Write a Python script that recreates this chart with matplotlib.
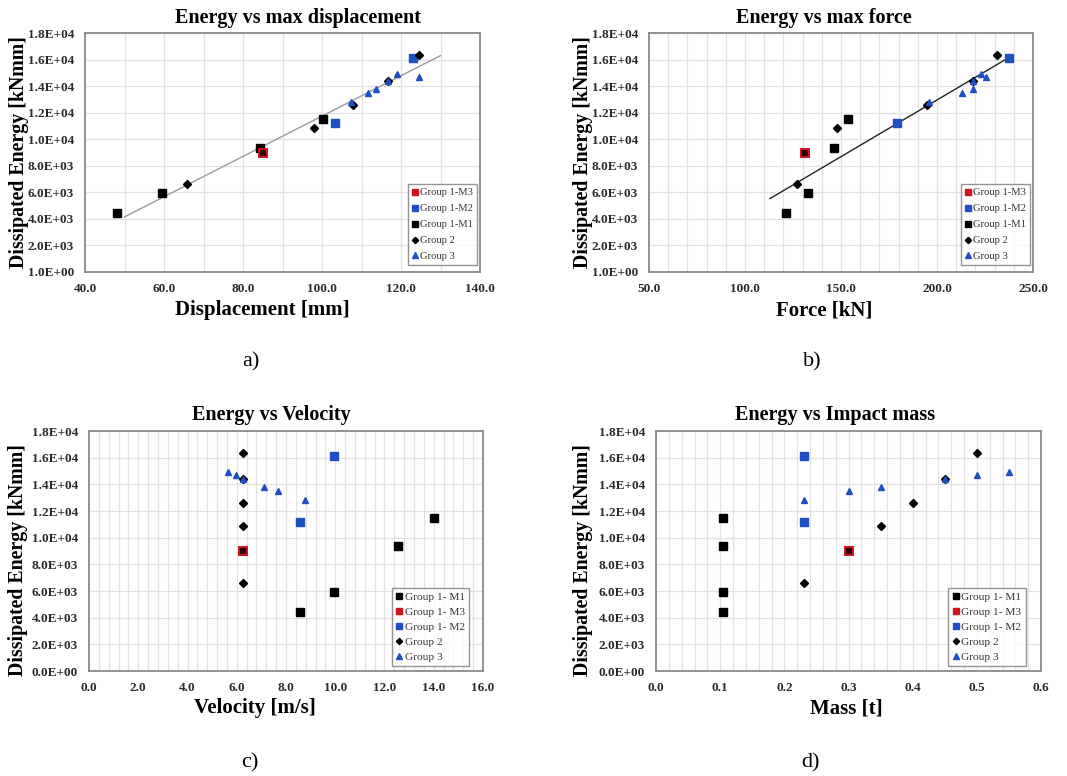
import numpy as np
import matplotlib
matplotlib.use("Agg")
import matplotlib.pyplot as plt
from matplotlib.lines import Line2D
from matplotlib.ticker import FuncFormatter, MultipleLocator

# ---------------- data ----------------
energy_m1 = [4450, 5950, 9350, 11500]
energy_m3 = [9000]
energy_m2 = [11200, 16100]
energy_g2 = [6600, 10850, 12600, 14400, 16350]
energy_g3 = [12800, 13500, 13800, 14400, 14700, 14900]

disp_m1 = [48.2, 59.6, 84.3, 100.3]
disp_m3 = [85.1]
disp_m2 = [103.3, 123.1]
disp_g2 = [65.7, 98.0, 107.9, 116.6, 124.6]
disp_g3 = [107.3, 111.7, 113.6, 116.6, 124.6, 119.0]

force_m1 = [121.6, 132.6, 146.3, 153.7]
force_m3 = [131.0]
force_m2 = [179.2, 237.5]
force_g2 = [127.0, 147.8, 194.8, 218.6, 231.4]
force_g3 = [195.9, 213.0, 218.8, 219.0, 225.4, 223.1]

vel_m1 = [8.58, 9.93, 12.54, 14.03]
vel_m3 = [6.27]
vel_m2 = [8.58, 9.93]
vel_g2 = [6.27, 6.27, 6.27, 6.27, 6.27]
vel_g3 = [8.77, 7.67, 7.10, 6.27, 5.95, 5.66]

mass_m1 = [0.105, 0.105, 0.105, 0.105]
mass_m3 = [0.30]
mass_m2 = [0.23, 0.23]
mass_g2 = [0.23, 0.35, 0.40, 0.45, 0.50]
mass_g3 = [0.23, 0.30, 0.35, 0.45, 0.50, 0.55]

# trend lines (x extent and energy at the ends)
trend_disp_x = [50.0, 130.0]
trend_disp_energy = [4150, 16300]
trend_force_x = [113.0, 238.0]
trend_force_energy = [5530, 16200]

titles = ["Energy vs max displacement", "Energy vs max force",
          "Energy vs Velocity", "Energy vs Impact mass"]
xlabels = ["Displacement [mm]", "Force [kN]", "Velocity [m/s]", "Mass [t]"]
ylabel = "Dissipated Energy [kNmm]"
captions = ["a)", "b)", "c)", "d)"]
legend_ab = ["Group 1-M3", "Group 1-M2", "Group 1-M1", "Group 2", "Group 3"]
legend_cd = ["Group 1- M1", "Group 1- M3", "Group 1- M2", "Group 2", "Group 3"]

# ---------------- style ----------------
SERIF = "Liberation Serif"
RED = "#d0121b"
BLUE = "#1f4fc4"
BLACK = "#000000"
W, H = 1067, 776

fig = plt.figure(figsize=(W / 100, H / 100), dpi=100)
fig.patch.set_facecolor("white")


def make_ax(l, r, t, b):
    return fig.add_axes([l / W, 1 - b / H, (r - l) / W, (b - t) / H])


def fx(px):
    return px / W


def fy(py):
    return 1 - py / H


def style_ax(ax, xlim, xmajor, xminor, ylim, yticks):
    ax.set_xlim(*xlim)
    ax.set_ylim(*ylim)
    ax.xaxis.set_major_locator(MultipleLocator(xmajor))
    ax.xaxis.set_minor_locator(MultipleLocator(xminor))
    ax.set_yticks(yticks)
    ax.xaxis.set_major_formatter(FuncFormatter(lambda v, p: f"{v:.1f}"))
    ax.yaxis.set_major_formatter(FuncFormatter(lambda v, p: f"{v:.1E}"))
    ax.grid(True, which="both", axis="x", color="#e2e2e2", lw=0.9, zorder=0)
    ax.grid(True, which="major", axis="y", color="#e2e2e2", lw=0.9, zorder=0)
    ax.set_axisbelow(True)
    for s in ax.spines.values():
        s.set_color("#8a8a8a")
        s.set_linewidth(1.3)
    ax.tick_params(which="both", length=0)
    ax.tick_params(axis="x", pad=8)
    ax.tick_params(axis="y", pad=8)
    for lab in ax.get_xticklabels() + ax.get_yticklabels():
        lab.set_fontfamily(SERIF)
        lab.set_fontweight("bold")
        lab.set_fontsize(9.5)
        lab.set_color("#2a2a2a")


def texts(title, tpos, xlabel, xpos, ypos):
    fig.text(fx(tpos[0]), fy(tpos[1]), title, fontfamily=SERIF, fontweight="bold",
             fontsize=14.5, ha="center", va="center")
    fig.text(fx(xpos[0]), fy(xpos[1]), xlabel, fontfamily=SERIF, fontweight="bold",
             fontsize=15, ha="center", va="center")
    fig.text(fx(ypos[0]), fy(ypos[1]), ylabel, fontfamily=SERIF, fontweight="bold",
             fontsize=14.3, ha="center", va="center", rotation=90)


def plot_groups(ax, xs, order):
    m1, m3, m2, g2, g3 = xs
    sq = dict(marker="s", ms=5.3, ls="none", zorder=3)
    ax.plot(m1, energy_m1, color=BLACK, mec=BLACK, **sq)
    ax.plot(m3, energy_m3, color="#300000", mec=RED, mew=1.4, **sq)
    ax.plot(m2, energy_m2, color=BLUE, mec=BLUE, **sq)
    ax.plot(g2, energy_g2, marker="D", ms=3.6, ls="none", color=BLACK, zorder=4)
    ax.plot(g3, energy_g3, marker="^", ms=4.2, ls="none", color=BLUE, zorder=4)
    handles = {
        "M1": Line2D([], [], marker="s", ms=4.5, ls="none", color=BLACK),
        "M3": Line2D([], [], marker="s", ms=4.5, ls="none", color=RED),
        "M2": Line2D([], [], marker="s", ms=4.5, ls="none", color=BLUE),
        "G2": Line2D([], [], marker="D", ms=3.2, ls="none", color=BLACK),
        "G3": Line2D([], [], marker="^", ms=3.8, ls="none", color=BLUE),
    }
    return [handles[k] for k in order]


def add_legend(ax, handles, labels, bbox, size, spacing):
    leg = ax.legend(handles, labels, loc="lower right", bbox_to_anchor=bbox,
                    prop={"family": SERIF, "size": size}, frameon=True, fancybox=False,
                    edgecolor="#7a7a7a", handlelength=0.6, handletextpad=0.2,
                    labelspacing=spacing, borderpad=0.35, borderaxespad=0.0)
    leg.get_frame().set_linewidth(1.0)
    for t in leg.get_texts():
        t.set_color("#333333")


yt_ab = [1] + list(range(2000, 18001, 2000))
yt_cd = list(range(0, 18001, 2000))

# ---- a) displacement ----
ax = make_ax(85, 480, 33, 272)
h = plot_groups(ax, [disp_m1, disp_m3, disp_m2, disp_g2, disp_g3], ["M3", "M2", "M1", "G2", "G3"])
ax.plot(trend_disp_x, trend_disp_energy, color="#9a9a9a", lw=1.0, zorder=2)
style_ax(ax, (40, 140), 20, 10, (1, 18000), yt_ab)
add_legend(ax, h, legend_ab, (0.992, 0.03), 7.6, 0.62)
texts(titles[0], (298, 18), xlabels[0], (262, 310), (19, 152))

# ---- b) force ----
ax = make_ax(649, 1033, 33, 272)
h = plot_groups(ax, [force_m1, force_m3, force_m2, force_g2, force_g3], ["M3", "M2", "M1", "G2", "G3"])
ax.plot(trend_force_x, trend_force_energy, color="#222222", lw=1.0, zorder=2)
style_ax(ax, (50, 250), 50, 10, (1, 18000), yt_ab)
add_legend(ax, h, legend_ab, (0.992, 0.03), 7.6, 0.62)
texts(titles[1], (824, 18), xlabels[1], (824, 310), (583, 152))

# ---- c) velocity ----
ax = make_ax(89, 483, 431, 671)
h = plot_groups(ax, [vel_m1, vel_m3, vel_m2, vel_g2, vel_g3], ["M1", "M3", "M2", "G2", "G3"])
style_ax(ax, (0, 16), 2, 0.4, (0, 18000), yt_cd)
add_legend(ax, h, legend_cd, (0.965, 0.02), 8.2, 0.45)
texts(titles[2], (271, 415), xlabels[2], (255, 708), (18, 560))

# ---- d) mass ----
ax = make_ax(656, 1041, 431, 671)
h = plot_groups(ax, [mass_m1, mass_m3, mass_m2, mass_g2, mass_g3], ["M1", "M3", "M2", "G2", "G3"])
style_ax(ax, (0, 0.6), 0.1, 0.02, (0, 18000), yt_cd)
add_legend(ax, h, legend_cd, (0.96, 0.02), 8.2, 0.45)
texts(titles[3], (835, 415), xlabels[3], (846, 708), (583, 560))

# captions
for (x, y), cap in zip([(251, 362), (812, 362), (250, 763), (810, 763)], captions):
    fig.text(fx(x), fy(y), cap, fontfamily=SERIF, fontsize=16, ha="center", va="center")

fig.savefig("out.png", dpi=100, facecolor="white")
